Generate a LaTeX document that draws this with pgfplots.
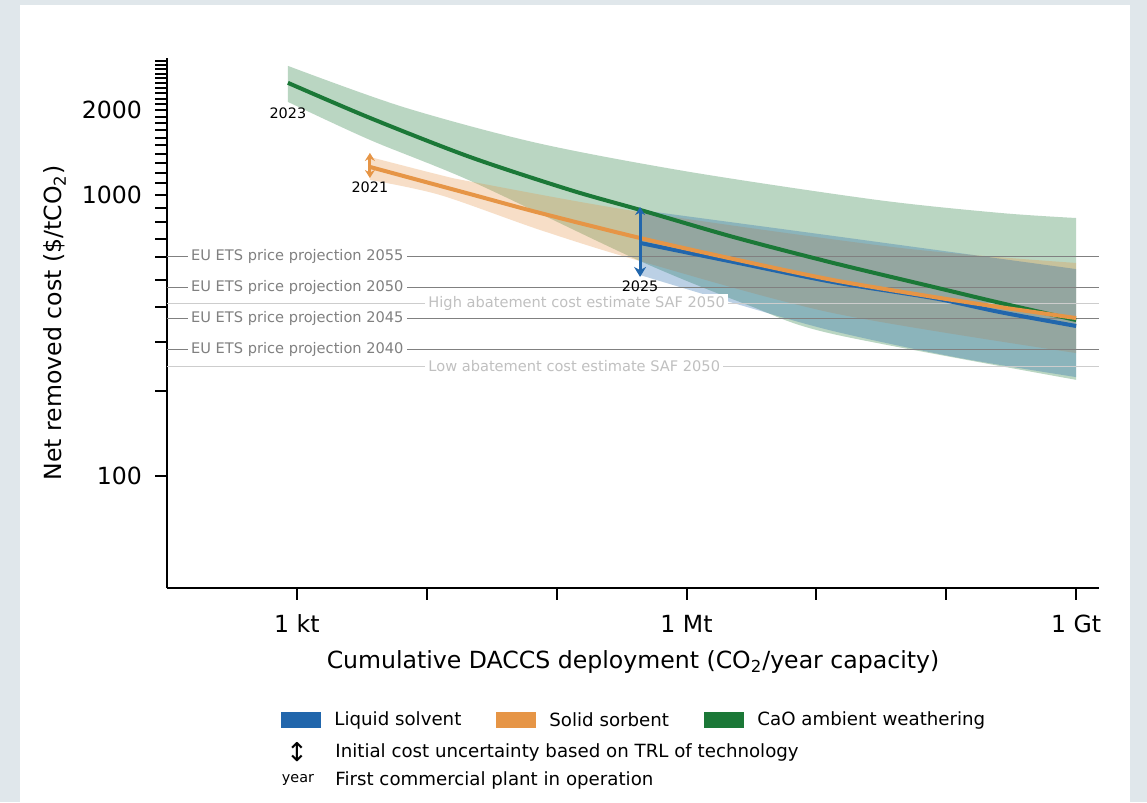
\documentclass[border=0pt]{standalone}
\usepackage{fontspec}
\setmainfont{DejaVu Sans}
\usepackage{pgfplots}
\pgfplotsset{compat=1.18}
\usepgfplotslibrary{fillbetween}
\usetikzlibrary{arrows.meta}
\definecolor{cblue}{RGB}{33,102,172}
\definecolor{corange}{RGB}{230,149,70}
\definecolor{cgreen}{RGB}{27,120,55}
\definecolor{refgray}{RGB}{128,128,128}
\definecolor{safgray}{RGB}{192,192,192}
\definecolor{safline}{RGB}{205,205,205}
\definecolor{framec}{RGB}{224,231,235}
\begin{document}
\begin{tikzpicture}
\begin{axis}[
 set layers,
 at={(83.5pt,107pt)}, anchor=south west,
 width=466pt, height=265pt, scale only axis,
 xmode=log, ymode=log,
 xmin=100, xmax=1.5e9, ymin=40, ymax=3070,
 axis x line*=bottom, axis y line*=left,
 axis line style={line width=1.4pt},
 every tick/.style={black, line width=1pt},
 tick align=outside, major tick length=6pt,
 xminorticks=false, yminorticks=false,
 xtick={1e3,1e4,1e5,1e6,1e7,1e8,1e9},
 xticklabels={1 kt,{},{},1 Mt,{},{},1 Gt},
 ytick={100,1000,2000},
 yticklabels={100,1000,2000},
 extra y ticks={200,300,400,500,600,700,800,900,1100,1200,1300,1400,1500,1600,1700,1800,1900,2100,2200,2300,2400,2500,2600,2700,2800,2900,3000},
 extra y tick labels={},
 tick label style={font=\fontsize{11.8}{13}\selectfont},
 yticklabel style={xshift=-3pt},
 xticklabel style={yshift=-4pt},
 every axis x label/.style={at={(rel axis cs:0.5,0)}, yshift=-37pt, anchor=center, font=\fontsize{11.8}{13}\selectfont},
 every axis y label/.style={at={(rel axis cs:0,0.5)}, xshift=-56pt, rotate=90, anchor=center, font=\fontsize{11.8}{13}\selectfont},
 xlabel={Cumulative DACCS deployment (CO\textsubscript{2}/year capacity)},
 ylabel={Net removed cost (\$/tCO\textsubscript{2})},
 clip=false,
]
\begin{pgfonlayer}{axis background}
\fill[framec] (rel axis cs:-0.17918,-0.40377) rectangle (rel axis cs:1.05150,1.10943);
\fill[white] (rel axis cs:-0.15773,-0.40377) rectangle (rel axis cs:1.03326,1.10000);
\end{pgfonlayer}
% reference lines
\addplot[refgray, line width=0.6pt] coordinates {(100,603) (1.5e9,603)};
\addplot[refgray, line width=0.6pt] coordinates {(100,468) (1.5e9,468)};
\addplot[safline, line width=0.6pt] coordinates {(100,412) (1.5e9,412)};
\addplot[refgray, line width=0.6pt] coordinates {(100,364) (1.5e9,364)};
\addplot[refgray, line width=0.6pt] coordinates {(100,283) (1.5e9,283)};
\addplot[safline, line width=0.6pt] coordinates {(100,246) (1.5e9,246)};
\begin{scope}[every node/.style={font=\fontsize{7.3}{8}\selectfont, fill=white, inner xsep=1.5pt, inner ysep=1pt, anchor=west}]
\node[text=refgray] at (axis cs:144.6,603) {EU ETS price projection 2055};
\node[text=refgray] at (axis cs:144.6,468) {EU ETS price projection 2050};
\node[text=refgray] at (axis cs:144.6,364) {EU ETS price projection 2045};
\node[text=refgray] at (axis cs:144.6,283) {EU ETS price projection 2040};
\node[text=safgray] at (axis cs:9700,412) {High abatement cost estimate SAF 2050};
\node[text=safgray] at (axis cs:9700,246) {Low abatement cost estimate SAF 2050};
\end{scope}
% band boundaries
\addplot[name path=gU, draw=none, smooth] coordinates {
 (853,2878) (6560,2056) (70600,1531) (1.066e6,1207) (2.94e7,960) (2.61e8,863) (1e9,828)};
\addplot[name path=gL, draw=none, smooth] coordinates {
 (853,2143) (3650,1570) (22700,1112) (439000,582) (3.09e6,403) (1.35e7,320) (1e9,220)};
\addplot[name path=oU, draw=none, smooth] coordinates {
 (3650,1365) (12640,1178) (22700,1112) (439000,870) (4.43e7,648) (1e9,573)};
\addplot[name path=oL, draw=none, smooth] coordinates {
 (3650,1131) (12640,1000) (74500,751) (439000,582) (1.35e7,380) (1e9,274)};
\addplot[name path=bU, draw=none, smooth] coordinates {
 (439000,884) (1.35e7,715) (1e9,545)};
\addplot[name path=bL, draw=none, smooth] coordinates {
 (439000,519) (2.59e6,406) (1.35e7,328) (1.172e8,265) (1e9,225)};
\addplot[fill=cgreen, fill opacity=0.3, draw=none] fill between[of=gU and gL];
\addplot[fill=corange, fill opacity=0.3, draw=none] fill between[of=oU and oL];
\addplot[fill=cblue, fill opacity=0.3, draw=none] fill between[of=bU and bL];
% lines
\addplot[cgreen, line width=2pt, smooth] coordinates {
 (853,2505) (3650,1880) (21500,1365) (126800,1042) (439000,885) (2.29e6,709) (1.35e7,573) (7.94e7,471) (2.61e8,413) (1e9,359)};
\addplot[cblue, line width=2pt, smooth] coordinates {
 (439000,675) (2.29e6,578) (1.35e7,490) (7.94e7,430) (2.61e8,383) (1e9,342)};
\addplot[corange, line width=2pt, smooth] coordinates {
 (3650,1258) (21500,1008) (74500,863) (439000,703) (2.29e6,592) (1.35e7,498) (7.94e7,434) (2.61e8,399) (1e9,365)};
% uncertainty arrows
\addplot[corange, line width=1.5pt, {Stealth[length=4pt,width=5pt]}-{Stealth[length=4pt,width=5pt]}] coordinates {(3650,1411) (3650,1149)};
\addplot[cblue, line width=1.5pt, {Stealth[length=4pt,width=5pt]}-{Stealth[length=5pt,width=6pt]}] coordinates {(439000,906) (439000,511)};
% year labels
\node[font=\fontsize{7.2}{8}\selectfont] at (axis cs:853,1958) {2023};
\node[font=\fontsize{7.2}{8}\selectfont] at (axis cs:3650,1068) {2021};
\node[font=\fontsize{7.2}{8}\selectfont] at (axis cs:439000,474) {2025};
\end{axis}
% legend
\fill[cblue] (140.5pt,37pt) rectangle (160.5pt,45pt);
\fill[corange] (248pt,37pt) rectangle (268pt,45pt);
\fill[cgreen] (352pt,37pt) rectangle (372pt,45pt);
\begin{scope}[every node/.style={font=\fontsize{9.1}{10}\selectfont, anchor=west, inner sep=0pt}]
\node at (167pt,41pt) {Liquid solvent};
\node at (274.5pt,41pt) {Solid sorbent};
\node at (378.5pt,41pt) {CaO ambient weathering};
\node at (167.5pt,25pt) {Initial cost uncertainty based on TRL of technology};
\node at (167.5pt,11pt) {First commercial plant in operation};
\end{scope}
\node[font=\fontsize{13}{14}\selectfont, inner sep=0pt] at (148.5pt,25pt) {↕};
\node[font=\fontsize{7.2}{8}\selectfont, inner sep=0pt] at (149pt,11pt) {year};
\end{tikzpicture}
\end{document}
